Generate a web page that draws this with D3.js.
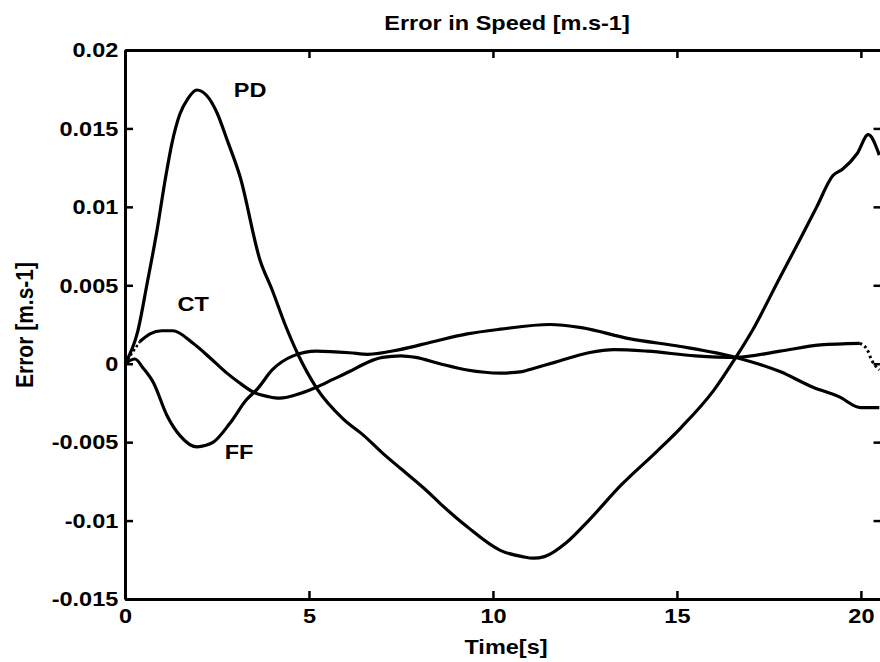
<!DOCTYPE html>
<html>
<head>
<meta charset="utf-8">
<title>Error in Speed</title>
<script src="https://cdnjs.cloudflare.com/ajax/libs/d3/7.8.5/d3.min.js"></script>
<style>
  body { margin: 0; background: #fff; }
  svg { display: block; }
  text { font-family: "Liberation Sans", Arial, sans-serif; font-weight: bold; fill: #000; }
</style>
</head>
<body>
<div id="chart"></div>
<script>
// values (time in s, error in m/s)
const pdTime  = [0, 0.35, 0.6, 0.87, 1.09, 1.28, 1.49, 1.71, 1.95, 2.22, 2.5, 2.77, 3.13, 3.67, 4.0, 4.35, 4.7, 5.22, 5.92, 6.5, 7.0, 7.5, 8.2, 8.56, 9.3, 10.2, 10.8, 11.1, 11.4, 12.0, 12.6, 13.5, 14.45, 15.1, 16.0, 16.6, 17.07, 17.8, 18.34, 18.8, 19.24, 19.5, 19.9, 20.2, 20.5];
const pdError = [0, 0.0021, 0.0051, 0.0085, 0.0117, 0.0141, 0.0159, 0.0169, 0.01745, 0.0171, 0.0160, 0.0143, 0.0119, 0.0066, 0.0047, 0.0025, 0.0006, -0.0016, -0.0035, -0.0046, -0.0057, -0.0067, -0.0081, -0.0089, -0.0104, -0.0119, -0.0123, -0.0124, -0.0123, -0.0114, -0.0100, -0.0077, -0.0056, -0.0041, -0.0017, 0.0004, 0.0022, 0.0055, 0.0079, 0.0100, 0.0120, 0.0124, 0.0134, 0.0146, 0.0133];

const ctTime  = [0, 0.2, 0.4, 0.68, 1.0, 1.3, 1.85, 2.3, 2.77, 3.1, 3.48, 3.9, 4.2, 4.76, 5.2, 5.65, 6.1, 6.6, 7.0, 7.5, 7.9, 8.56, 9.3, 10.2, 10.8, 11.1, 11.7, 12.6, 13.3, 14.2, 15.5, 16.6, 17.8, 18.9, 19.97, 20.17, 20.3, 20.5];
const ctError = [0, 0.0007, 0.0014, 0.0019, 0.0021, 0.0021, 0.0013, 0.0004, -0.0006, -0.0012, -0.0018, -0.0021, -0.0022, -0.0019, -0.0015, -0.0010, -0.0005, 0.0001, 0.0004, 0.0005, 0.0004, 0.0000, -0.0004, -0.0006, -0.0005, -0.0003, 0.0001, 0.0007, 0.0009, 0.0008, 0.0005, 0.0004, 0.0008, 0.0012, 0.0013, 0.0009, 0.0002, -0.0004];

const ffTime  = [0, 0.27, 0.5, 0.77, 1.14, 1.5, 1.95, 2.2, 2.4, 2.85, 3.3, 3.6, 4.0, 4.57, 5.2, 6.1, 6.6, 7.47, 8.37, 9.3, 10.2, 11.55, 12.4, 13.7, 15.1, 16.6, 17.8, 18.7, 19.4, 20.0, 20.5];
const ffError = [0, 0.0003, -0.0003, -0.0012, -0.0033, -0.0046, -0.0053, -0.0052, -0.0050, -0.0038, -0.0023, -0.0016, -0.0004, 0.0005, 0.0008, 0.0007, 0.0006, 0.0009, 0.0014, 0.0019, 0.0022, 0.0025, 0.0023, 0.0016, 0.0011, 0.0004, -0.0005, -0.0015, -0.0021, -0.0028, -0.0028];

const xTicks = [0, 5, 10, 15, 20];
const yTicks = [-0.015, -0.01, -0.005, 0, 0.005, 0.01, 0.015, 0.02];
const yTickLabels = ["-0.015", "-0.01", "-0.005", "0", "0.005", "0.01", "0.015", "0.02"];

const curveLabels = [
  { text: "PD", t: 3.4, v: 0.0175 },
  { text: "CT", t: 1.85, v: 0.0038 },
  { text: "FF", t: 3.1, v: -0.0056 }
];

const width = 880, height = 662;
const plotLeft = 125, plotRight = 881.5, plotTop = 50, plotBottom = 599;
const stretch = 1.12; // the scan is a bit wider than tall

const svg = d3.select("#chart").append("svg")
  .attr("width", width)
  .attr("height", height);

const x = d3.scaleLinear().domain([0, 20.56]).range([plotLeft, plotRight]);
const y = d3.scaleLinear().domain([-0.015, 0.02]).range([plotBottom, plotTop]);

const line = d3.line()
  .x(d => x(d[0]))
  .y(d => y(d[1]))
  .curve(d3.curveMonotoneX);

const pdData = pdTime.map((t, i) => [t, pdError[i]]);
const ctData = ctTime.map((t, i) => [t, ctError[i]]);
const ffData = ffTime.map((t, i) => [t, ffError[i]]);

const plot = svg.append("g");

plot.append("path").datum(pdData)
  .attr("d", line).attr("fill", "none").attr("stroke", "#000").attr("stroke-width", 3.2);

plot.append("path").datum(ffData)
  .attr("d", line).attr("fill", "none").attr("stroke", "#000").attr("stroke-width", 3.2);

// CT: solid in the middle, dotted at both ends
plot.append("path").datum(ctData.filter(d => d[0] >= 0.4 && d[0] <= 19.97))
  .attr("d", line).attr("fill", "none").attr("stroke", "#000").attr("stroke-width", 3.2);
plot.append("path").datum(ctData.filter(d => d[0] <= 0.4))
  .attr("d", line).attr("fill", "none").attr("stroke", "#000").attr("stroke-width", 2.5)
  .attr("stroke-dasharray", "2.5,2.5");
plot.append("path").datum(ctData.filter(d => d[0] >= 19.97))
  .attr("d", line).attr("fill", "none").attr("stroke", "#000").attr("stroke-width", 3)
  .attr("stroke-dasharray", "2.5,3");

// axes, ticks pointing inwards like the original
const styleAxis = g => {
  g.select(".domain").attr("stroke", "#000").attr("stroke-width", 3);
  g.selectAll(".tick line").attr("stroke", "#000").attr("stroke-width", 2.5);
  g.selectAll(".tick text")
    .attr("font-size", 21)
    .attr("font-family", null)
    .attr("transform", `scale(${stretch},1)`);
};

svg.append("g")
  .attr("transform", `translate(0,${plotBottom})`)
  .call(d3.axisBottom(x).tickValues(xTicks).tickSizeInner(-8).tickSizeOuter(0).tickPadding(9))
  .call(styleAxis);

svg.append("g")
  .attr("transform", `translate(0,${plotTop})`)
  .call(d3.axisTop(x).tickValues(xTicks).tickSizeInner(-8).tickSizeOuter(0).tickFormat(""))
  .call(styleAxis);

svg.append("g")
  .attr("transform", `translate(${plotLeft},0)`)
  .call(d3.axisLeft(y).tickValues(yTicks).tickSizeInner(-8).tickSizeOuter(0).tickPadding(6)
    .tickFormat((d, i) => yTickLabels[i]))
  .call(styleAxis);

svg.append("g")
  .attr("transform", `translate(${plotRight},0)`)
  .call(d3.axisRight(y).tickValues(yTicks).tickSizeInner(-8).tickSizeOuter(0).tickFormat(""))
  .call(styleAxis);

// titles
svg.append("text")
  .attr("transform", `translate(507,30) scale(${stretch},1)`)
  .attr("text-anchor", "middle")
  .attr("font-size", 21)
  .text("Error in Speed [m.s-1]");

svg.append("text")
  .attr("transform", `translate(506,654) scale(${stretch},1)`)
  .attr("text-anchor", "middle")
  .attr("font-size", 21)
  .text("Time[s]");

svg.append("text")
  .attr("transform", `translate(33,325) rotate(-90) scale(1,${stretch})`)
  .attr("text-anchor", "middle")
  .attr("font-size", 21)
  .text("Error [m.s-1]");

// curve labels
svg.selectAll("text.curve-label")
  .data(curveLabels)
  .join("text")
  .attr("class", "curve-label")
  .attr("transform", d => `translate(${x(d.t)},${y(d.v)}) scale(${stretch},1)`)
  .attr("text-anchor", "middle")
  .attr("dy", "0.35em")
  .attr("font-size", 21)
  .text(d => d.text);
</script>
</body>
</html>
